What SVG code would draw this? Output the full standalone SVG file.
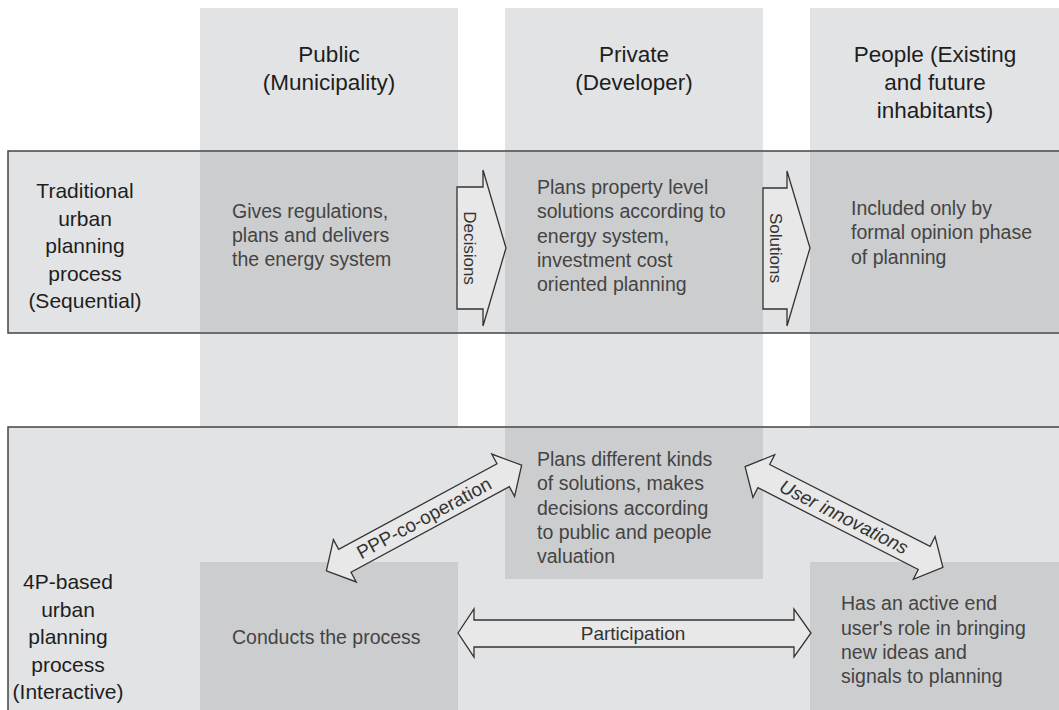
<svg xmlns="http://www.w3.org/2000/svg" width="1059" height="710" viewBox="0 0 1059 710">
<style>
.lt{fill:#e2e3e5}
.dk{fill:#cccdce}
.band{fill:#e2e3e5;stroke:#444;stroke-width:1.5}
.hd{font-family:"Liberation Sans",Arial,sans-serif;font-size:22.5px;fill:#1e1e1e;text-anchor:middle}
.rl{font-family:"Liberation Sans",Arial,sans-serif;font-size:21px;fill:#1e1e1e;text-anchor:middle}
.tx{font-family:"Liberation Sans",Arial,sans-serif;font-size:19.5px;fill:#444}
.arr{fill:#e8e8e8;stroke:#333;stroke-width:1.3;stroke-linejoin:miter}
.al{font-family:"Liberation Sans",Arial,sans-serif;font-size:17px;fill:#333;text-anchor:middle}
.al2{font-family:"Liberation Sans",Arial,sans-serif;font-size:19px;fill:#333;text-anchor:middle}
</style>
<rect width="1059" height="710" fill="#fff"/>
<g id="columns">
<rect class="lt" x="200" y="8" width="258" height="420"/>
<rect class="lt" x="505" y="8" width="258" height="420"/>
<rect class="lt" x="810" y="8" width="250" height="420"/>
</g>
<g id="col-public-header">
<text class="hd" x="329" y="62">Public</text>
<text class="hd" x="329" y="90">(Municipality)</text>
</g>
<g id="col-private-header">
<text class="hd" x="634" y="62">Private</text>
<text class="hd" x="634" y="90">(Developer)</text>
</g>
<g id="col-people-header">
<text class="hd" x="935" y="62">People (Existing</text>
<text class="hd" x="935" y="90">and future</text>
<text class="hd" x="935" y="118">inhabitants)</text>
</g>
<g id="band-traditional">
<rect class="band" x="8" y="151" width="1060" height="182"/>
<rect class="dk" x="200" y="152" width="258" height="180"/>
<rect class="dk" x="505" y="152" width="258" height="180"/>
<rect class="dk" x="810" y="152" width="250" height="180"/>
<text class="rl" x="85" y="198">Traditional</text>
<text class="rl" x="85" y="225.5">urban</text>
<text class="rl" x="85" y="253">planning</text>
<text class="rl" x="85" y="280.5">process</text>
<text class="rl" x="85" y="308">(Sequential)</text>
</g>
<g id="trad-public">
<text class="tx" x="232" y="218">Gives regulations,</text>
<text class="tx" x="232" y="242">plans and delivers</text>
<text class="tx" x="232" y="266">the energy system</text>
</g>
<g id="trad-private">
<text class="tx" x="537" y="194">Plans property level</text>
<text class="tx" x="537" y="218">solutions according to</text>
<text class="tx" x="537" y="242.5">energy system,</text>
<text class="tx" x="537" y="267">investment cost</text>
<text class="tx" x="537" y="291">oriented planning</text>
</g>
<g id="trad-people">
<text class="tx" x="851" y="215">Included only by</text>
<text class="tx" x="851" y="239">formal opinion phase</text>
<text class="tx" x="851" y="264">of planning</text>
</g>
<g id="band-4p">
<rect class="band" x="8" y="427" width="1060" height="300"/>
<rect class="dk" x="505" y="428" width="258" height="151"/>
<rect class="dk" x="200" y="562" width="258" height="150"/>
<rect class="dk" x="810" y="562" width="250" height="150"/>
<text class="rl" x="68" y="589">4P-based</text>
<text class="rl" x="68" y="616.5">urban</text>
<text class="rl" x="68" y="644">planning</text>
<text class="rl" x="68" y="671.5">process</text>
<text class="rl" x="68" y="699">(Interactive)</text>
</g>
<g id="p4-private">
<text class="tx" x="537" y="466">Plans different kinds</text>
<text class="tx" x="537" y="490">of solutions, makes</text>
<text class="tx" x="537" y="515">decisions according</text>
<text class="tx" x="537" y="539">to public and people</text>
<text class="tx" x="537" y="563">valuation</text>
</g>
<g id="p4-public">
<text class="tx" x="232" y="644">Conducts the process</text>
</g>
<g id="p4-people">
<text class="tx" x="841" y="610">Has an active end</text>
<text class="tx" x="841" y="634.5">user's role in bringing</text>
<text class="tx" x="841" y="659">new ideas and</text>
<text class="tx" x="841" y="683">signals to planning</text>
</g>
<g id="connectors">
<path class="arr" d="M457,187 L483,187 L483,170 L506,248 L483,326 L483,309 L457,309 Z"/>
<text class="al" transform="translate(470,248) rotate(90)" y="6">Decisions</text>
<path class="arr" d="M763,188 L787,188 L787,171 L810,248 L787,326 L787,309 L763,309 Z"/>
<text class="al" transform="translate(776,248) rotate(90)" y="6">Solutions</text>
<path class="arr" d="M458,633 L474,609 L474,620 L794,620 L794,609 L811,633 L794,657 L794,647 L474,647 L474,657 Z"/>
<text class="al2" x="633" y="640">Participation</text>
<g transform="translate(424,518) rotate(-28.4)">
<path class="arr" d="M-111,0 L-90,-24 L-90,-13 L90,-13 L90,-24 L111,0 L90,24 L90,13 L-90,13 L-90,24 Z"/>
<text class="al2" x="0" y="6.5">PPP-co-operation</text>
</g>
<g transform="translate(844,517) rotate(27)">
<path class="arr" d="M-111,0 L-90,-24 L-90,-13 L90,-13 L90,-24 L111,0 L90,24 L90,13 L-90,13 L-90,24 Z"/>
<text class="al2" x="0" y="6.5" font-style="italic">User innovations</text>
</g>
</g>
</svg>
